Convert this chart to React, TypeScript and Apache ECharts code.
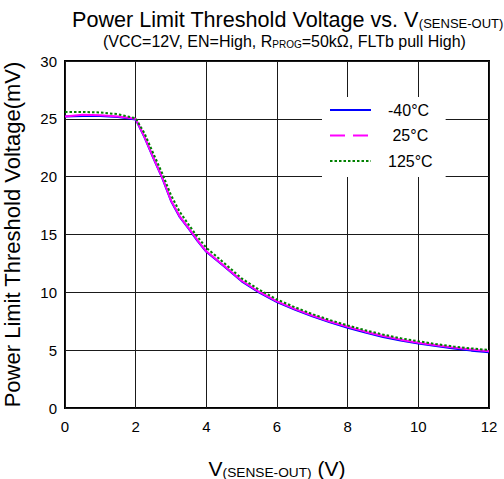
import React, { useEffect, useRef } from 'react';
import * as echarts from 'echarts';

// V(SENSE-OUT) sample points (V)
const xValues = [0, 0.5, 1, 1.5, 2, 2.25, 2.5, 2.75, 3, 3.25, 3.5, 3.75, 4, 4.5, 5, 5.5, 6, 6.5, 7, 7.5, 8, 8.5, 9, 9.5, 10, 10.5, 11, 11.5, 12];

const seriesNames = ['-40°C', '25°C', '125°C'];

// Power limit threshold voltage (mV)
const tempMinus40 = [25.2, 25.25, 25.25, 25.15, 24.95, 23.4, 21.6, 19.9, 17.9, 16.5, 15.5, 14.45, 13.5, 12.25, 10.95, 9.98, 9.15, 8.5, 7.92, 7.4, 6.94, 6.52, 6.14, 5.83, 5.57, 5.35, 5.14, 4.96, 4.82];
const temp25 = [25.2, 25.35, 25.3, 25.2, 25.0, 23.45, 21.65, 19.95, 17.95, 16.55, 15.55, 14.5, 13.55, 12.3, 11.0, 10.03, 9.22, 8.57, 8.0, 7.48, 7.02, 6.6, 6.22, 5.91, 5.65, 5.43, 5.22, 5.05, 4.9];
const temp125 = [25.6, 25.6, 25.55, 25.4, 25.05, 23.75, 22.0, 20.3, 18.4, 16.95, 15.85, 14.8, 13.85, 12.55, 11.2, 10.22, 9.38, 8.72, 8.12, 7.6, 7.14, 6.72, 6.35, 6.03, 5.77, 5.53, 5.32, 5.15, 5.02];

const xMin = 0, xMax = 12, xStep = 2;
const yMin = 0, yMax = 30, yStep = 5;

const FONT = "'Liberation Sans', Arial, sans-serif";

export default function App() {
  const ref = useRef<HTMLDivElement>(null);

  useEffect(() => {
    if (!ref.current) return;
    const chart = echarts.init(ref.current, null, { renderer: 'svg' });
    const toPairs = (ys: number[]) => xValues.map((x, i) => [x, ys[i]]);
    chart.setOption({
      animation: false,
      backgroundColor: '#fff',
      title: [
        {
          left: 72,
          top: 7,
          padding: 0,
          text: '{a|Power Limit Threshold Voltage vs. V}{s|(SENSE-OUT)}',
          textStyle: {
            rich: {
              a: { fontFamily: FONT, fontSize: 21.6, lineHeight: 23, verticalAlign: 'bottom', color: '#000', fontWeight: 'normal' },
              s: { fontFamily: FONT, fontSize: 13, lineHeight: 8, verticalAlign: 'bottom', color: '#000', fontWeight: 'normal' },
            },
          },
        },
        {
          left: 103,
          top: 32,
          padding: 0,
          text: '{b|(VCC=12V, EN=High, R}{t|PROG}{b|=50kΩ, FLTb pull High)}',
          textStyle: {
            rich: {
              b: { fontFamily: FONT, fontSize: 16, lineHeight: 17, verticalAlign: 'bottom', color: '#000', fontWeight: 'normal' },
              t: { fontFamily: FONT, fontSize: 10, lineHeight: 7, verticalAlign: 'bottom', color: '#000', fontWeight: 'normal' },
            },
          },
        },
      ],
      grid: {
        left: 65,
        right: 15,
        top: 61,
        bottom: 71,
        show: true,
        borderColor: '#000',
        borderWidth: 2,
        backgroundColor: 'transparent',
        containLabel: false,
        outerBoundsMode: 'none',
      },
      legend: {
        orient: 'vertical',
        left: 322,
        top: 97,
        padding: [5, 13, 8, 7],
        itemWidth: 41,
        itemHeight: 14,
        itemGap: 9.5,
        backgroundColor: '#fff',
        selectedMode: false,
        itemStyle: { color: 'rgba(0,0,0,0)', borderWidth: 0, opacity: 0 },
        textStyle: { fontFamily: FONT, fontSize: 16, color: '#000', padding: [0, 0, 0, 12] },
        formatter: (name: string) => (name === '25°C' ? '\u00a0' + name : name),
        data: [
          { name: seriesNames[0] },
          { name: seriesNames[1], lineStyle: { type: [15, 8] } },
          { name: seriesNames[2] },
        ],
      },
      xAxis: {
        type: 'value',
        min: xMin,
        max: xMax,
        interval: xStep,
        axisLine: { show: false },
        axisTick: { show: false },
        axisLabel: { fontFamily: FONT, fontSize: 15, color: '#000', margin: 11 },
        splitLine: { show: true, lineStyle: { color: '#1a1a1a', width: 1 } },
        name: '{a|V}{s|(SENSE-OUT)}{a| (V)}',
        nameLocation: 'middle',
        nameGap: 49,
        nameTextStyle: {
          rich: {
            a: { fontFamily: FONT, fontSize: 21, lineHeight: 22, verticalAlign: 'bottom', color: '#000' },
            s: { fontFamily: FONT, fontSize: 13.7, lineHeight: 8, verticalAlign: 'bottom', color: '#000' },
          },
        },
      },
      yAxis: {
        type: 'value',
        min: yMin,
        max: yMax,
        interval: yStep,
        axisLine: { show: false },
        axisTick: { show: false },
        axisLabel: { fontFamily: FONT, fontSize: 15, color: '#000', margin: 8 },
        splitLine: { show: true, lineStyle: { color: '#1a1a1a', width: 1 } },
        name: 'Power Limit Threshold Voltage(mV)',
        nameLocation: 'middle',
        nameGap: 42,
        nameTextStyle: { fontFamily: FONT, fontSize: 22, color: '#000' },
      },
      series: [
        {
          name: seriesNames[0],
          type: 'line',
          data: toPairs(tempMinus40),
          symbol: 'none',
          showSymbol: false,
          lineStyle: { color: '#0000ff', width: 2, type: 'solid' },
          itemStyle: { color: '#0000ff' },
        },
        {
          name: seriesNames[1],
          type: 'line',
          data: toPairs(temp25),
          symbol: 'none',
          showSymbol: false,
          lineStyle: { color: '#ff00ff', width: 2, type: 'solid' },
          itemStyle: { color: '#ff00ff' },
        },
        {
          name: seriesNames[2],
          type: 'line',
          data: toPairs(temp125),
          symbol: 'none',
          showSymbol: false,
          lineStyle: { color: '#008000', width: 2, type: [2.5, 2] },
          itemStyle: { color: '#008000' },
        },
      ],
    });
    return () => chart.dispose();
  }, []);

  return (
    <div
      ref={ref}
      style={{ position: 'absolute', left: 0, top: 0, width: 504, height: 479, background: '#fff' }}
    />
  );
}
